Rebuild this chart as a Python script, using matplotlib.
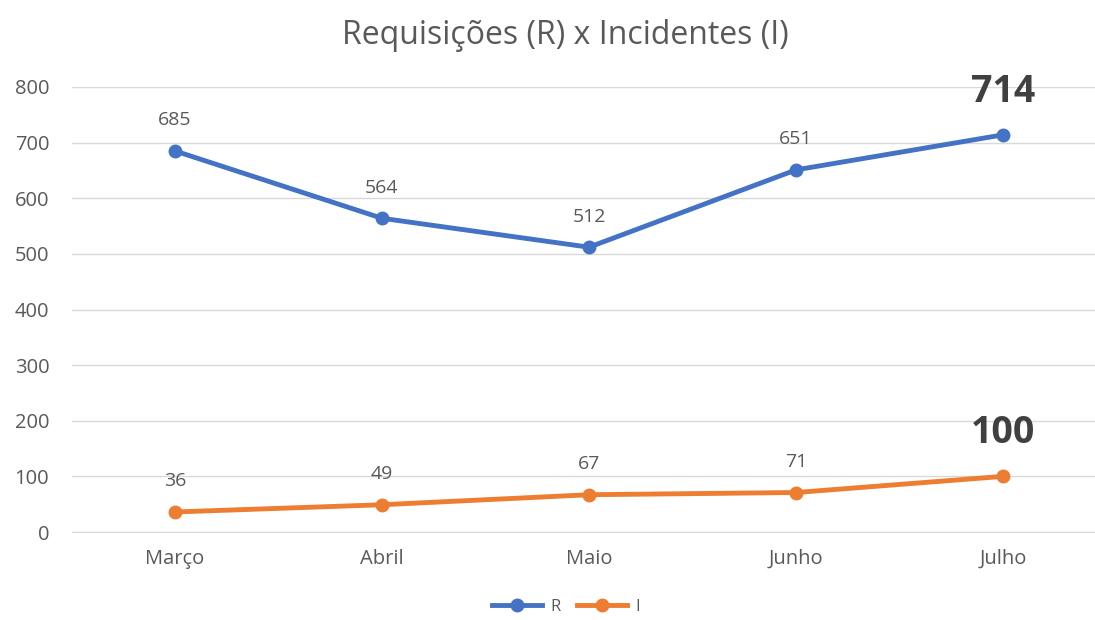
import matplotlib.pyplot as plt

meses = ['Março', 'Abril', 'Maio', 'Junho', 'Julho']
requisicoes = [685, 564, 512, 651, 714]
incidentes = [36, 49, 67, 71, 100]

azul = '#4472C4'
laranja = '#ED7D31'
cinza = '#595959'

plt.rcParams['font.family'] = ['Open Sans', 'DejaVu Sans']

fig = plt.figure(figsize=(10.95, 6.2), dpi=100)
ax = fig.add_axes([71.5 / 1095, 88 / 620, 1035 / 1095, 445 / 620])

x = range(len(meses))
ax.plot(x, requisicoes, color=azul, lw=3.5, marker='o', ms=9, label='R')
ax.plot(x, incidentes, color=laranja, lw=3.5, marker='o', ms=9, label='I')

# rótulos dos pontos (o último de cada série em destaque)
for serie in (requisicoes, incidentes):
    for i, v in enumerate(serie):
        if i == len(serie) - 1:
            ax.annotate(str(v), (i, v), xytext=(0, 31), textcoords='offset points',
                        ha='center', va='center', fontsize=27, fontweight='bold', color='#404040')
        else:
            ax.annotate(str(v), (i, v), xytext=(0, 22), textcoords='offset points',
                        ha='center', va='center', fontsize=14, color=cinza)

ax.set_xlim(-0.5, 4.5)
ax.set_ylim(0, 800)
ax.set_yticks(range(0, 801, 100))
ax.set_xticks(list(x))
ax.set_xticklabels(meses)
ax.grid(axis='y', color='#D9D9D9', lw=1)
ax.set_axisbelow(True)
for s in ax.spines.values():
    s.set_visible(False)
ax.spines['bottom'].set_visible(True)
ax.spines['bottom'].set_color('#D9D9D9')
ax.tick_params(length=0, labelsize=14.5, colors=cinza, pad=12)
ax.tick_params(axis='y', pad=16)

fig.text(565 / 1095, 1 - 35 / 620, 'Requisições (R) x Incidentes (I)', ha='center', va='center',
         fontsize=23, color=cinza)

fig.legend(loc='center', bbox_to_anchor=(566 / 1095, 1 - 607 / 620), ncol=2, frameon=False,
           fontsize=12, labelcolor=cinza, handlelength=3, columnspacing=1.0, handletextpad=0.5,
           borderpad=0.1)

fig.savefig('out.png', dpi=100)
